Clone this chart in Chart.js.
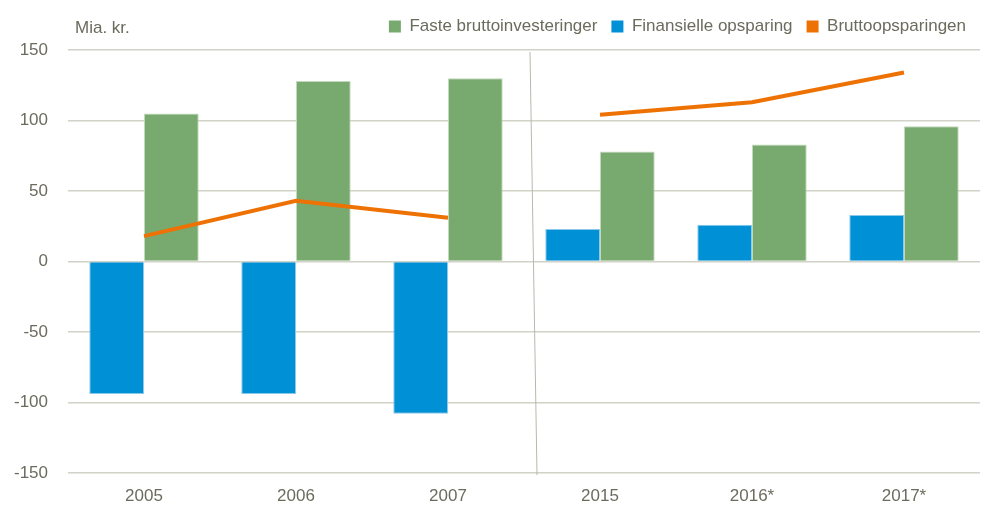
<!DOCTYPE html>
<html>
<head>
<meta charset="utf-8">
<script src="https://cdn.jsdelivr.net/npm/chart.js@4"></script>
<style>
  body { margin: 0; background: #fff; }
  #wrap { width: 982px; height: 508px; }
</style>
</head>
<body>
<div id="wrap"><canvas id="myChart"></canvas></div>
<script>
const categories = ['2005', '2006', '2007', '2015', '2016*', '2017*'];
const finansielle = [-94, -94, -108, 23, 26, 33];
const faste = [105, 128, 130, 78, 83, 96];
const brutto = [18, 43, 31, 104, 113, 134];
const yTicks = [-150, -100, -50, 0, 50, 100, 150];

const textColor = '#6b6b5e';
const fontFamily = '"Liberation Sans Narrow", "Liberation Sans", Arial, sans-serif';

// index of the last point before the break in the time axis
const breakAfter = 2;

const extras = {
    id: 'extras',
    beforeLayout: (chart) => {
        // leave a bit more room under the legend
        const lg = chart.legend;
        if (lg && !lg._patched) {
            const orig = lg.fit;
            lg.fit = function () { orig.call(this); this.height += 5; };
            lg._patched = true;
        }
    },
    afterDraw: (chart) => {
        const ctx = chart.ctx;
        const x = chart.scales.x;
        const area = chart.chartArea;
        const mid = (x.getPixelForValue(breakAfter) + x.getPixelForValue(breakAfter + 1)) / 2;
        ctx.save();
        // divider between the two periods
        ctx.strokeStyle = '#b8b8ae';
        ctx.lineWidth = 1;
        ctx.beginPath();
        ctx.moveTo(mid + 6, area.top + 2);
        ctx.lineTo(mid + 13, area.bottom + 2);
        ctx.stroke();
        // unit label
        ctx.fillStyle = textColor;
        ctx.font = '17px ' + fontFamily;
        ctx.textBaseline = 'middle';
        ctx.textAlign = 'left';
        ctx.fillText('Mia. kr.', area.left + 7, 28);
        ctx.restore();
    }
};

const ctx = document.getElementById('myChart').getContext('2d');
new Chart(ctx, {
    type: 'bar',
    data: {
        labels: categories,
        datasets: [
            {
                label: 'Finansielle opsparing',
                data: finansielle,
                backgroundColor: '#0090d5',
                borderColor: '#8cc8ea',
                borderWidth: 1,
                order: 2,
            },
            {
                label: 'Faste bruttoinvesteringer',
                data: faste,
                backgroundColor: '#78a96f',
                borderColor: '#c2d8bc',
                borderWidth: 1,
                order: 2,
            },
            {
                type: 'line',
                label: 'Bruttoopsparingen',
                data: brutto,
                borderColor: '#ee7203',
                backgroundColor: '#ee7203',
                borderWidth: 4,
                pointRadius: 0,
                tension: 0,
                order: 1,
                segment: {
                    borderColor: (c) => c.p0DataIndex === breakAfter ? 'transparent' : '#ee7203',
                },
            },
        ],
    },
    options: {
        responsive: true,
        maintainAspectRatio: false,
        animation: false,
        layout: { padding: { left: 0, right: 2, top: 4, bottom: 0 } },
        datasets: {
            bar: { categoryPercentage: 0.72, barPercentage: 1.0 },
        },
        plugins: {
            legend: {
                position: 'top',
                align: 'end',
                labels: {
                    boxWidth: 12,
                    boxHeight: 12,
                    padding: 14,
                    color: textColor,
                    font: { size: 17, family: fontFamily },
                    sort: (a, b) => {
                        const order = ['Faste bruttoinvesteringer', 'Finansielle opsparing', 'Bruttoopsparingen'];
                        return order.indexOf(a.text) - order.indexOf(b.text);
                    },
                    generateLabels: (chart) => {
                        const items = Chart.defaults.plugins.legend.labels.generateLabels(chart);
                        items.forEach((it) => { it.lineWidth = 0; it.strokeStyle = 'transparent'; });
                        return items;
                    },
                },
            },
            tooltip: { enabled: false },
        },
        scales: {
            x: {
                afterFit: (s) => { s.height = 35; },
                grid: { display: false },
                border: { display: false },
                ticks: {
                    color: textColor,
                    padding: 5,
                    font: { size: 17, family: fontFamily },
                },
            },
            y: {
                min: -150,
                max: 150,
                afterFit: (s) => { s.width = 68; },
                afterBuildTicks: (s) => { s.ticks = yTicks.map((v) => ({ value: v })); },
                grid: { color: '#d2d2c8', lineWidth: 1.5, drawTicks: false },
                border: { display: false },
                ticks: {
                    color: textColor,
                    padding: 20,
                    font: { size: 17, family: fontFamily },
                },
            },
        },
    },
    plugins: [extras],
});
</script>
</body>
</html>
